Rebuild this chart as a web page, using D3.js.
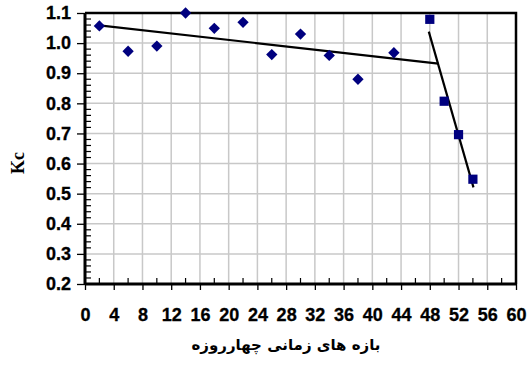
<!DOCTYPE html>
<html>
<head>
<meta charset="utf-8">
<script src="https://cdn.jsdelivr.net/npm/d3@7"></script>
<style>
  html, body { margin: 0; padding: 0; background: #fff; }
  svg { display: block; }
</style>
</head>
<body>
<svg id="chart" width="528" height="367"></svg>
<script>
// Early-season points (diamonds)
const periodsA = [2, 6, 10, 14, 18, 22, 26, 30, 34, 38, 43];
const kcA = [1.057, 0.973, 0.99, 1.1, 1.049, 1.069, 0.962, 1.03, 0.959, 0.88, 0.968];
// Late-season points (squares)
const periodsB = [48, 50, 52, 54];
const kcB = [1.079, 0.807, 0.696, 0.548];
// Fitted trend segments (endpoints)
const trendAx = [2, 49.2];
const trendAy = [1.059, 0.932];
const trendBx = [47.86, 54.08];
const trendBy = [1.038, 0.521];
// Axis ticks
const xTicks = [0, 4, 8, 12, 16, 20, 24, 28, 32, 36, 40, 44, 48, 52, 56, 60];
const yTicks = [0.2, 0.3, 0.4, 0.5, 0.6, 0.7, 0.8, 0.9, 1.0, 1.1];
const xTitle = "بازه های زمانی چهارروزه";
const yTitle = "Kc";

const svg = d3.select("#chart");
const plotLeft = 85, plotRight = 516, plotTop = 13, plotBottom = 284;

const x = d3.scaleLinear().domain([0, 60]).range([plotLeft, plotRight]);
const y = d3.scaleLinear().domain([0.2, 1.1]).range([plotBottom, plotTop]);

// Grid
const grid = svg.append("g");
grid.append("g").selectAll("line").data(xTicks.slice(1)).join("line")
  .attr("x1", d => x(d)).attr("x2", d => x(d))
  .attr("y1", plotTop).attr("y2", plotBottom)
  .attr("stroke", "#c8c8c8").attr("stroke-width", 1.5);
grid.append("g").selectAll("line").data(yTicks.slice(1)).join("line")
  .attr("x1", plotLeft).attr("x2", plotRight)
  .attr("y1", d => y(d)).attr("y2", d => y(d))
  .attr("stroke", "#c8c8c8").attr("stroke-width", 1.5);

// Frame (top and right)
svg.append("path")
  .attr("d", `M${plotLeft},${plotTop}H${plotRight}V${plotBottom}`)
  .attr("fill", "none").attr("stroke", "#000").attr("stroke-width", 2.5);

// Minor ticks (inside)
const yMinor = d3.range(0.22, 1.1, 0.02).filter(v => Math.abs(Math.round(v * 10) - v * 10) > 0.01);
svg.append("g").selectAll("line").data(yMinor).join("line")
  .attr("x1", plotLeft).attr("x2", plotLeft + 6)
  .attr("y1", d => y(d)).attr("y2", d => y(d))
  .attr("stroke", "#000").attr("stroke-width", 1.2);
const xMinor = d3.range(2, 60, 4);
svg.append("g").selectAll("line").data(xMinor).join("line")
  .attr("x1", d => x(d)).attr("x2", d => x(d))
  .attr("y1", plotBottom).attr("y2", plotBottom - 6)
  .attr("stroke", "#000").attr("stroke-width", 1.2);

// Axes
const fontTicks = "'Liberation Sans', Arial, sans-serif";
const xAxis = svg.append("g").attr("transform", `translate(0,${plotBottom})`)
  .call(d3.axisBottom(x).tickValues(xTicks).tickFormat(d3.format("d")).tickSize(6).tickPadding(18));
const yAxis = svg.append("g").attr("transform", `translate(${plotLeft},0)`)
  .call(d3.axisLeft(y).tickValues(yTicks).tickFormat(d3.format(".1f")).tickSize(8).tickPadding(6));
[xAxis, yAxis].forEach(a => {
  a.attr("font-family", fontTicks).attr("font-size", 18).attr("font-weight", 700);
  a.select(".domain").attr("stroke", "#000").attr("stroke-width", 3);
  a.selectAll(".tick line").attr("stroke", "#000").attr("stroke-width", 1.3);
  a.selectAll(".tick text").attr("fill", "#000").attr("font-weight", 700)
    .attr("stroke", "#000").attr("stroke-width", 0.3);
});
xAxis.select(".domain").attr("d", `M${plotLeft},0H${plotRight}`);
yAxis.select(".domain").attr("d", `M0,${plotTop}V${plotBottom}`);

// Trend lines
const line = d3.line().x(d => x(d[0])).y(d => y(d[1]));
svg.append("path").datum(d3.zip(trendAx, trendAy)).attr("d", line)
  .attr("stroke", "#000").attr("stroke-width", 2.2).attr("fill", "none");
svg.append("path").datum(d3.zip(trendBx, trendBy)).attr("d", line)
  .attr("stroke", "#000").attr("stroke-width", 2.2).attr("fill", "none");

// Points
const navy = "#00007f";
svg.append("g").selectAll("path").data(d3.zip(periodsA, kcA)).join("path")
  .attr("transform", d => `translate(${x(d[0])},${y(d[1])}) rotate(45)`)
  .attr("d", "M-4,-4H4V4H-4Z")
  .attr("fill", navy);
svg.append("g").selectAll("rect").data(d3.zip(periodsB, kcB)).join("rect")
  .attr("x", d => x(d[0]) - 4.6).attr("y", d => y(d[1]) - 4.6)
  .attr("width", 9.2).attr("height", 9.2)
  .attr("fill", navy);

// Titles
svg.append("text")
  .attr("x", 286).attr("y", 350)
  .attr("text-anchor", "middle")
  .attr("direction", "rtl")
  .attr("font-family", "'DejaVu Sans', sans-serif")
  .attr("font-weight", 700).attr("font-size", 15)
  .text(xTitle);
svg.append("text")
  .attr("transform", "translate(24,163) rotate(-90)")
  .attr("text-anchor", "middle")
  .attr("font-family", "'Liberation Serif', 'Times New Roman', serif")
  .attr("font-weight", 700).attr("font-size", 18)
  .text(yTitle);
</script>
</body>
</html>
